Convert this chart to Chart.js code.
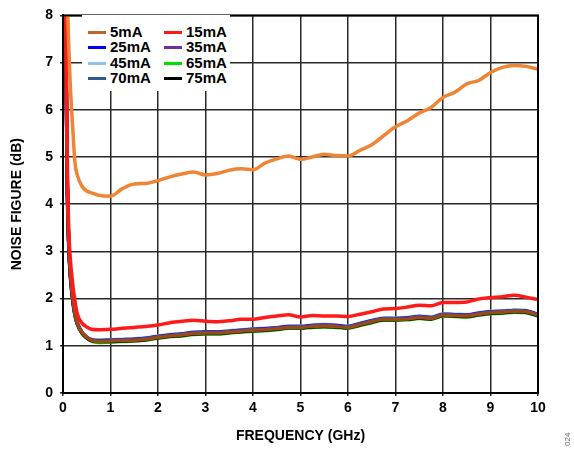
<!DOCTYPE html>
<html>
<head>
<meta charset="utf-8">
<script src="https://cdn.jsdelivr.net/npm/chart.js@4/dist/chart.umd.min.js"></script>
<style>
  html, body { margin: 0; padding: 0; background: #fff; }
  #wrap { position: relative; width: 574px; height: 451px; font-family: "Liberation Sans", Arial, sans-serif; }
  #legend {
    position: absolute; left: 82px; top: 15px; width: 148px; height: 76px;
    background: #fff; font-weight: bold; font-size: 15px; color: #000;
  }
  .item { position: absolute; height: 16px; line-height: 16px; white-space: nowrap; }
  .item i { position: absolute; top: 7px; height: 3px; width: 18px; left: 0; }
  .item span { position: absolute; left: 22px; top: 0; }
  #code {
    position: absolute; left: 563px; top: 446px; font-size: 8px; color: #666;
    transform: rotate(-90deg); transform-origin: left top;
  }
</style>
</head>
<body>
<div id="wrap">
  <canvas id="nfChart" width="574" height="451"></canvas>
  <div id="legend"></div>
  <div id="code">024</div>
</div>
<script>
const freq = [0.03, 0.06, 0.09, 0.12, 0.15, 0.2, 0.25, 0.3, 0.4, 0.5, 0.6, 0.75,
  1.0, 1.25, 1.5, 1.75, 2.0, 2.25, 2.5, 2.75, 3.0, 3.25, 3.5, 3.75, 4.0, 4.25, 4.5, 4.75,
  5.0, 5.25, 5.5, 5.75, 6.0, 6.25, 6.5, 6.75, 7.0, 7.25, 7.5, 7.75, 8.0, 8.25, 8.5, 8.75,
  9.0, 9.25, 9.5, 9.75, 10.0];

const nf5mA = [10, 9.5, 8.4, 7.4, 6.6, 5.7, 4.9, 4.62, 4.38, 4.28, 4.24, 4.19,
  4.17, 4.33, 4.43, 4.44, 4.5, 4.58, 4.64, 4.68, 4.62, 4.65, 4.72, 4.75, 4.73, 4.87, 4.96, 5.02,
  4.95, 5.0, 5.06, 5.03, 5.02, 5.14, 5.26, 5.45, 5.64, 5.77, 5.93, 6.05, 6.26, 6.37, 6.55, 6.62,
  6.79, 6.9, 6.94, 6.92, 6.86];
const nf15mA = [10, 8.2, 5.0, 3.5, 2.9, 2.35, 1.96, 1.68, 1.48, 1.40, 1.35, 1.34,
  1.35, 1.37, 1.39, 1.41, 1.44, 1.49, 1.52, 1.54, 1.52, 1.51, 1.53, 1.56, 1.56, 1.60, 1.63, 1.66,
  1.61, 1.64, 1.63, 1.63, 1.62, 1.67, 1.72, 1.78, 1.79, 1.82, 1.86, 1.85, 1.92, 1.92, 1.93, 1.99,
  2.02, 2.04, 2.07, 2.03, 1.98];
const nf25mA = [10, 7.4, 4.4, 3.15, 2.55, 2.0, 1.66, 1.47, 1.28, 1.18, 1.13, 1.11,
  1.12, 1.13, 1.14, 1.16, 1.20, 1.23, 1.25, 1.28, 1.29, 1.29, 1.31, 1.33, 1.35, 1.36, 1.38, 1.41,
  1.41, 1.43, 1.44, 1.43, 1.41, 1.47, 1.53, 1.58, 1.58, 1.59, 1.62, 1.60, 1.67, 1.66, 1.65, 1.69,
  1.72, 1.73, 1.75, 1.74, 1.66];
const nf35mA = [10, 7.4, 4.4, 3.2, 2.55, 2.02, 1.67, 1.47, 1.28, 1.18, 1.12, 1.10,
  1.11, 1.12, 1.13, 1.15, 1.19, 1.22, 1.24, 1.27, 1.28, 1.28, 1.30, 1.32, 1.34, 1.35, 1.37, 1.40,
  1.40, 1.42, 1.43, 1.42, 1.40, 1.46, 1.52, 1.57, 1.57, 1.58, 1.61, 1.59, 1.66, 1.65, 1.64, 1.68,
  1.71, 1.72, 1.74, 1.73, 1.66];
const nf45mA = [10, 7.3, 4.3, 3.1, 2.5, 1.98, 1.64, 1.46, 1.28, 1.19, 1.14, 1.12,
  1.13, 1.14, 1.15, 1.17, 1.21, 1.24, 1.26, 1.29, 1.30, 1.30, 1.32, 1.34, 1.36, 1.37, 1.39, 1.42,
  1.42, 1.44, 1.45, 1.44, 1.42, 1.48, 1.54, 1.59, 1.59, 1.60, 1.63, 1.61, 1.68, 1.67, 1.66, 1.70,
  1.73, 1.74, 1.76, 1.75, 1.67];
const nf65mA = [10, 7.6, 4.6, 3.25, 2.62, 2.06, 1.68, 1.47, 1.26, 1.16, 1.10, 1.07,
  1.08, 1.09, 1.10, 1.12, 1.16, 1.19, 1.21, 1.24, 1.25, 1.25, 1.27, 1.29, 1.31, 1.32, 1.34, 1.37,
  1.37, 1.39, 1.40, 1.39, 1.37, 1.43, 1.49, 1.54, 1.54, 1.55, 1.58, 1.56, 1.63, 1.62, 1.61, 1.65,
  1.68, 1.69, 1.71, 1.70, 1.63];
const nf70mA = [10, 7.5, 4.5, 3.2, 2.58, 2.04, 1.68, 1.48, 1.28, 1.18, 1.12, 1.10,
  1.10, 1.12, 1.12, 1.15, 1.18, 1.21, 1.24, 1.26, 1.28, 1.27, 1.30, 1.31, 1.34, 1.34, 1.37, 1.39,
  1.40, 1.41, 1.43, 1.41, 1.40, 1.45, 1.52, 1.56, 1.57, 1.57, 1.61, 1.58, 1.66, 1.64, 1.64, 1.67,
  1.71, 1.71, 1.74, 1.72, 1.66];
const nf75mA = [10, 7.5, 4.5, 3.2, 2.6, 2.05, 1.68, 1.48, 1.27, 1.17, 1.11, 1.09,
  1.09, 1.10, 1.11, 1.13, 1.17, 1.20, 1.22, 1.25, 1.26, 1.26, 1.28, 1.30, 1.32, 1.33, 1.35, 1.38,
  1.38, 1.40, 1.41, 1.40, 1.38, 1.44, 1.50, 1.55, 1.55, 1.56, 1.59, 1.57, 1.64, 1.63, 1.62, 1.66,
  1.69, 1.70, 1.72, 1.71, 1.64];
// brown trace on top of the low group (not in the legend)
const nfBrown = [10, 7.5, 4.5, 3.2, 2.6, 2.05, 1.68, 1.48, 1.28, 1.18, 1.12, 1.09,
  1.10, 1.11, 1.12, 1.14, 1.18, 1.21, 1.23, 1.26, 1.27, 1.27, 1.29, 1.31, 1.33, 1.34, 1.36, 1.39,
  1.39, 1.41, 1.42, 1.41, 1.39, 1.45, 1.51, 1.56, 1.56, 1.57, 1.60, 1.58, 1.65, 1.64, 1.63, 1.67,
  1.70, 1.71, 1.73, 1.72, 1.65];

const xTicks = [0, 1, 2, 3, 4, 5, 6, 7, 8, 9, 10];
const yTicks = [0, 1, 2, 3, 4, 5, 6, 7, 8];

function pts(arr) {
  return freq.map((f, i) => ({ x: f, y: arr[i] }));
}

function series(label, arr, color, order, width, legendColor) {
  return {
    label: label,
    data: pts(arr),
    borderColor: color,
    legendColor: legendColor || color,
    borderWidth: width,
    pointRadius: 0,
    cubicInterpolationMode: 'monotone',
    order: order
  };
}

const datasets = [
  series('5mA', nf5mA, '#EE8434', 0, 3.5, '#C0622A'),
  series('15mA', nf15mA, '#FF1A1A', 1, 3.5),
  series('25mA', nf25mA, '#0000FF', 6, 3.5),
  series('35mA', nf35mA, '#7030A0', 5, 3.5),
  series('45mA', nf45mA, '#8CC4EA', 7, 3.5),
  series('65mA', nf65mA, '#00E000', 8, 3.5),
  series('70mA', nf70mA, '#2E5C8A', 4, 3.5),
  series('75mA', nf75mA, '#000000', 3, 3.5),
  series('', nfBrown, '#9C4A1C', 2, 3.5)
];

// html legend, two columns
const legendEl = document.getElementById('legend');
datasets.filter(d => d.label).forEach((d, i) => {
  const col = i % 2, row = Math.floor(i / 2);
  const el = document.createElement('div');
  el.className = 'item';
  el.style.left = (col ? 82 : 6) + 'px';
  el.style.top = (9 + row * 15.3) + 'px';
  el.innerHTML = '<i style="background:' + d.legendColor + '"></i><span>' + d.label + '</span>';
  legendEl.appendChild(el);
});

const frame = {
  id: 'frame',
  afterDraw(chart) {
    const a = chart.chartArea, c = chart.ctx;
    c.save();
    c.strokeStyle = '#000';
    c.lineWidth = 2;
    c.strokeRect(a.left, a.top, a.right - a.left, a.bottom - a.top);
    c.restore();
  }
};

const tickFont = { family: "'Liberation Sans', Arial, sans-serif", size: 14, weight: 'bold' };

new Chart(document.getElementById('nfChart').getContext('2d'), {
  type: 'line',
  data: { datasets: datasets },
  plugins: [frame],
  options: {
    responsive: false,
    animation: false,
    layout: { padding: { top: 14, right: 36, left: 0, bottom: 0 } },
    plugins: { legend: { display: false }, tooltip: { enabled: false } },
    scales: {
      x: {
        type: 'linear',
        min: 0, max: 10,
        afterFit(s) { s.height = 58; },
        afterBuildTicks(s) { s.ticks = xTicks.map(v => ({ value: v })); },
        grid: { color: '#2a2a2a', lineWidth: 1.5, tickLength: 3 },
        border: { color: '#000', width: 2 },
        ticks: { color: '#000', font: tickFont, padding: 4, maxRotation: 0 },
        title: { display: true, text: 'FREQUENCY (GHz)', color: '#000', font: tickFont, padding: { top: 0, bottom: 6 } }
      },
      y: {
        min: 0, max: 8,
        afterFit(s) { s.width = 63; },
        afterBuildTicks(s) { s.ticks = yTicks.map(v => ({ value: v })); },
        grid: { color: '#2a2a2a', lineWidth: 1.5, tickLength: 3 },
        border: { color: '#000', width: 2 },
        ticks: { color: '#000', font: tickFont, padding: 7 },
        title: { display: true, text: 'NOISE FIGURE (dB)', color: '#000', font: tickFont, padding: { top: 9, bottom: 0 } }
      }
    }
  }
});
</script>
</body>
</html>
